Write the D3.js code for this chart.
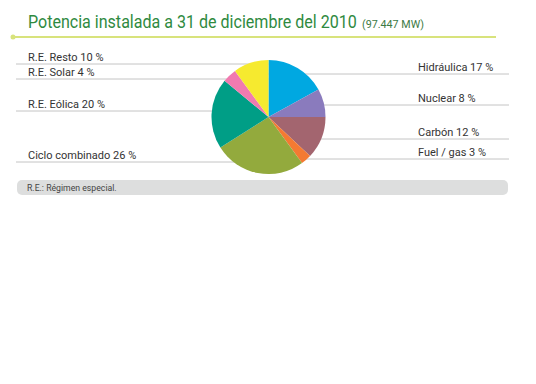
<!DOCTYPE html>
<html>
<head>
<meta charset="utf-8">
<script src="https://cdn.jsdelivr.net/npm/d3@7"></script>
<style>
  body { margin: 0; background: #fff; }
  text { font-family: Roboto, "DejaVu Sans", sans-serif; }
</style>
</head>
<body>
<svg id="chart" width="536" height="384"></svg>
<script>
// Data, clockwise from 12 o'clock
const categories = ["Hidráulica", "Nuclear", "Carbón", "Fuel / gas", "Ciclo combinado", "R.E. Eólica", "R.E. Solar", "R.E. Resto"];
const shares = [17, 8, 12, 3, 26, 20, 4, 10];
const colors = ["#00a8e1", "#8a7bbd", "#a3656f", "#f47a32", "#93aa3d", "#009e86", "#f17ab0", "#f6ea2f"];
// which side the label sits on, and the y of its rule
const sides = ["right", "right", "right", "right", "left", "left", "left", "left"];
const ruleY = [74, 105, 139, 159, 162, 111, 79, 64];

const svg = d3.select("#chart");
const cx = 268.5, cy = 117, r = 57;

// fit a text into a width by shrinking the font, then stretch it back vertically
function fitText(sel, size, width, baseY) {
    sel.style("font-size", size + "px");
    const w = sel.node().getComputedTextLength();
    if (w > width) {
        const k = width / w;
        sel.style("font-size", (size * k) + "px")
            .attr("y", 0)
            .attr("transform", `translate(0,${baseY}) scale(1,${1 / k})`);
    }
}

// title
const title = svg.append("text")
    .attr("x", 28).attr("y", 28)
    .attr("fill", "#2f8a3f")
    .text("Potencia instalada a 31 de diciembre del 2010");
fitText(title, 18.5, 329, 28);

const sub = svg.append("text")
    .attr("x", 362).attr("y", 28)
    .attr("fill", "#3c7a45")
    .text("(97.447 MW)");
fitText(sub, 11, 62, 28);

// title underline with dot
svg.append("line")
    .attr("x1", 13).attr("x2", 496).attr("y1", 37).attr("y2", 37)
    .attr("stroke", "#d8e37c").attr("stroke-width", 2);
svg.append("circle").attr("cx", 13).attr("cy", 37).attr("r", 2.5).attr("fill", "#d8e37c");

// label rules (drawn under the pie)
const rows = categories.map((c, i) => ({ name: c, value: shares[i], side: sides[i], y: ruleY[i] }));

svg.append("g").selectAll("line").data(rows).join("line")
    .attr("x1", d => d.side === "left" ? 16 : cx)
    .attr("x2", d => d.side === "left" ? cx : 509)
    .attr("y1", d => d.y).attr("y2", d => d.y)
    .attr("stroke", "#c4c4c4").attr("stroke-width", 1);

svg.append("g").selectAll("text").data(rows).join("text")
    .attr("x", d => d.side === "left" ? 28 : 418)
    .attr("y", d => d.y - 3)
    .attr("fill", "#333")
    .style("font-size", "11px")
    .text(d => `${d.name} ${d.value} %`);

// pie
const pie = d3.pie().sort(null).value(d => d.value);
const arc = d3.arc().innerRadius(0).outerRadius(r);

svg.append("g").attr("transform", `translate(${cx},${cy})`)
    .selectAll("path").data(pie(rows)).join("path")
    .attr("d", arc)
    .attr("fill", (d, i) => colors[i]);

// footer note
svg.append("rect")
    .attr("x", 17).attr("y", 180).attr("width", 491).attr("height", 15)
    .attr("rx", 5).attr("fill", "#dddede");
svg.append("text")
    .attr("x", 27).attr("y", 190.5)
    .attr("fill", "#444")
    .style("font-size", "8.7px")
    .text("R.E.: Régimen especial.");
</script>
</body>
</html>
